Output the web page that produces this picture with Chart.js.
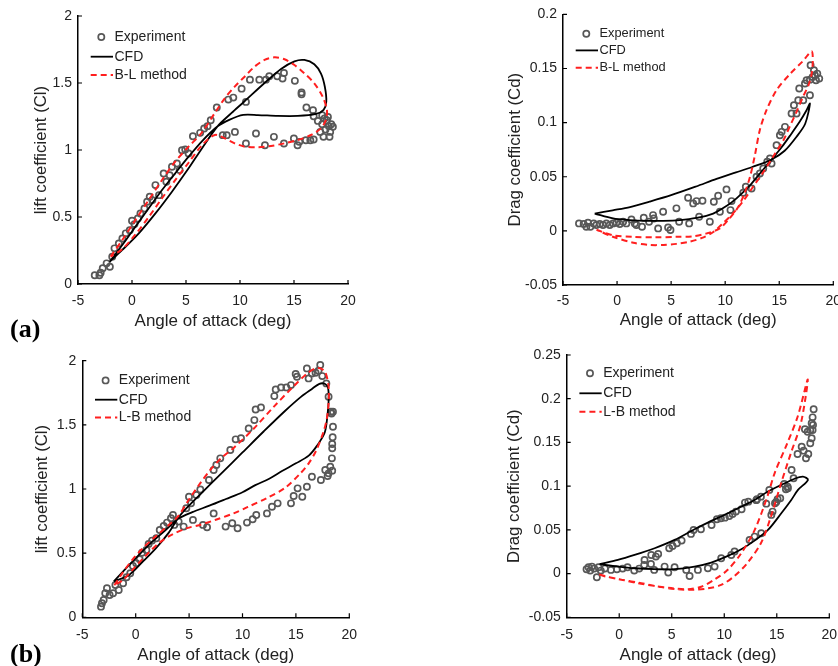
<!DOCTYPE html>
<html>
<head>
<meta charset="utf-8">
<script src="https://cdn.jsdelivr.net/npm/chart.js@4.4.1/dist/chart.umd.min.js"></script>
<style>
  html, body { margin: 0; padding: 0; background: #fff; width: 838px; height: 666px; overflow: hidden; }
  canvas { position: absolute; }
  .tag { position: absolute; font-family: "Liberation Serif", "Times New Roman", serif; font-weight: bold;
         font-size: 26px; line-height: 26px; color: #000; }
</style>
</head>
<body>
<canvas id="liftA" width="420" height="335" style="left:0px;top:0px"></canvas>
<canvas id="dragA" width="430" height="335" style="left:420px;top:0px"></canvas>
<canvas id="liftB" width="420" height="331" style="left:0px;top:335px"></canvas>
<canvas id="dragB" width="430" height="331" style="left:420px;top:335px"></canvas>
<div class="tag" style="left:10px;top:316px">(a)</div>
<div class="tag" style="left:10px;top:641px">(b)</div>
<script>
// ---- axis ticks ----
const aoaTicks = [-5, 0, 5, 10, 15, 20];
const aoaTickLabels = ['-5', '0', '5', '10', '15', '20'];
const liftTicks = [0, 0.5, 1, 1.5, 2];
const liftTickLabels = ['0', '0.5', '1', '1.5', '2'];
const dragTicksA = [-0.05, 0, 0.05, 0.1, 0.15, 0.2];
const dragTickLabelsA = ['-0.05', '0', '0.05', '0.1', '0.15', '0.2'];
const dragTicksB = [-0.05, 0, 0.05, 0.1, 0.15, 0.2, 0.25];
const dragTickLabelsB = ['-0.05', '0', '0.05', '0.1', '0.15', '0.2', '0.25'];

// ---- (a) lift: experiment ----
const expA_aoa = [-3.45,-3.02,-2.90,-2.71,-2.35,-2.05,-1.83,-1.62,-1.22,-0.89,-0.58,-0.21,0.00,0.23,0.54,0.78,1.15,1.40,1.64,1.89,
  2.17,2.50,2.93,3.18,3.49,3.70,4.16,4.41,4.63,4.93,5.24,5.64,6.31,6.68,6.99,7.29,7.85,8.40,8.77,8.92,
  9.38,9.53,10.15,10.55,10.55,10.92,11.48,11.79,12.31,12.40,12.71,13.14,13.45,13.94,14.07,14.07,15.08,14.99,15.33,15.49,
  15.70,15.70,16.10,16.15,16.51,16.82,16.76,16.82,17.21,17.43,17.61,17.73,17.92,18.04,18.23,18.35,18.45,18.29,18.14,18.60,
  17.83,17.61];
const expA_cl = [0.065,0.065,0.084,0.117,0.154,0.129,0.204,0.266,0.303,0.340,0.378,0.402,0.472,0.447,0.489,0.527,0.564,0.614,0.651,0.626,
  0.738,0.663,0.825,0.763,0.812,0.875,0.899,0.850,0.999,1.004,0.974,1.103,1.128,1.160,1.178,1.222,1.317,1.111,1.111,1.376,
  1.391,1.135,1.458,1.359,1.048,1.525,1.123,1.525,1.036,1.525,1.550,1.098,1.550,1.533,1.575,1.048,1.516,1.086,1.036,1.061,
  1.416,1.430,1.073,1.317,1.073,1.078,1.297,1.252,1.217,1.135,1.193,1.098,1.153,1.222,1.178,1.135,1.193,1.098,1.247,1.173,
  1.235,1.260];
// ---- (a) lift: CFD loop ----
const cfdA_aoa = [-2.07,-0.9,0.63,2.17,3.7,5.24,6.47,7.9,9.2,10.4,12.27,13.8,15.04,15.96,16.88,17.5,17.86,17.99,17.74,17.03,
  15.35,13.5,11.66,10.3,9.0,7.9,6.47,5.24,4.0,2.78,1.55,0.32,-0.9,-2.07];
const cfdA_cl = [0.166,0.254,0.378,0.527,0.689,0.863,1.012,1.175,1.275,1.362,1.50,1.605,1.662,1.672,1.64,1.57,1.47,1.36,1.30,1.269,
  1.254,1.254,1.261,1.262,1.225,1.175,1.065,0.95,0.826,0.701,0.565,0.428,0.291,0.166];
// ---- (a) lift: B-L method loop ----
const blA_aoa = [-1.98,-0.9,0.32,1.55,2.78,4.0,5.24,6.47,7.7,8.59,9.51,10.43,11.35,12.27,13.2,14.12,15.04,15.96,16.88,17.65,
  18.05,17.95,17.5,16.57,15.35,14.12,12.88,11.66,10.43,9.51,8.59,7.67,6.47,5.24,4.0,2.78,1.55,0.32,-0.9,-1.98];
const blA_cl = [0.204,0.328,0.478,0.627,0.776,0.913,1.025,1.13,1.28,1.386,1.473,1.547,1.622,1.672,1.692,1.677,1.634,1.572,1.498,1.398,
  1.299,1.224,1.162,1.112,1.075,1.05,1.03,1.02,1.025,1.05,1.087,1.112,1.035,0.905,0.775,0.64,0.50,0.37,0.26,0.204];

// ---- (a) drag: experiment ----
const expAd_aoa = [-3.52,-3.09,-2.84,-2.69,-2.47,-2.16,-1.91,-1.60,-1.30,-0.99,-0.68,-0.37,-0.06,0.25,0.56,0.86,1.33,1.64,1.79,2.31,
  2.47,2.96,3.33,3.40,3.80,4.26,4.72,4.94,5.49,5.74,6.57,6.67,7.04,7.35,7.59,7.90,8.58,8.95,9.35,9.51,
  10.12,10.49,10.59,11.67,11.91,12.44,12.90,13.21,13.52,13.89,14.14,14.29,14.75,15.06,15.22,15.53,16.14,16.36,16.60,16.76,
  16.85,17.22,17.38,17.53,17.84,17.90,18.09,18.21,18.40,18.52,18.70,17.84,18.30];
const expAd_cd = [0.0069,0.0063,0.0038,0.0075,0.0038,0.0069,0.0054,0.0063,0.0054,0.0069,0.0054,0.0069,0.0075,0.0063,0.0084,0.0069,0.0106,0.0069,0.0054,0.0038,
  0.0121,0.0084,0.0146,0.0115,0.0023,0.0177,0.0032,0.0008,0.0208,0.0084,0.0306,0.0069,0.0254,0.0275,0.0131,0.0278,0.0084,0.0269,0.0325,0.0177,
  0.0383,0.0192,0.0275,0.0352,0.0408,0.0392,0.0500,0.0531,0.0577,0.0638,0.0669,0.0623,0.0792,0.0884,0.0915,0.0961,0.1084,0.1161,0.1084,0.1207,
  0.1315,0.1207,0.1361,0.1391,0.1253,0.1530,0.1422,0.1484,0.1391,0.1453,0.1407,0.1397,0.1438];
// ---- (a) drag: CFD loop ----
const cfdAd_aoa = [-2.07,-0.37,1.17,2.71,4.26,5.8,7.35,8.89,10.12,11.05,12.28,13.21,14.3,15.2,16.0,16.9,17.5,17.84,17.4,16.6,
  15.5,14.3,12.5,11.0,9.2,7.3,5.0,3.0,1.2,-0.4,-2.07];
const cfdAd_cd = [0.016,0.0115,0.010,0.0093,0.0093,0.010,0.012,0.016,0.023,0.030,0.042,0.053,0.066,0.077,0.088,0.101,0.111,0.1176,0.099,0.087,
  0.074,0.066,0.059,0.054,0.048,0.041,0.033,0.027,0.022,0.019,0.016];
// ---- (a) drag: B-L method loop ----
const blAd_aoa = [-1.9,-0.4,1.5,3.5,5.5,7.0,8.3,9.5,10.4,11.2,11.8,12.3,12.75,13.2,13.8,14.75,16.0,17.2,18.0,18.1,
  18.0,17.7,17.2,16.6,16.0,15.4,14.4,13.5,12.6,11.7,10.7,9.8,8.9,8.0,6.7,5.5,4.3,3.0,1.5,-0.4,-1.9];
const blAd_cd = [0.001,-0.004,-0.0055,-0.006,-0.0055,-0.005,-0.0023,0.0023,0.0115,0.022,0.035,0.05,0.07,0.093,0.111,0.130,0.145,0.157,0.166,0.157,
  0.145,0.1345,0.124,0.11,0.097,0.084,0.068,0.054,0.041,0.028,0.016,0.007,-0.001,-0.006,-0.010,-0.012,-0.013,-0.013,-0.011,-0.0054,0.001];

// ---- (b) lift: experiment ----
const expB_aoa = [-3.25,-3.16,-3.00,-2.85,-2.69,-2.44,-2.12,-1.90,-1.59,-1.18,-0.86,-0.51,-0.26,0.05,0.37,0.59,1.00,1.21,1.53,1.93,
  2.25,2.62,2.93,3.30,3.49,3.61,4.02,4.49,4.74,4.99,5.18,5.36,5.68,6.05,6.30,6.68,6.86,7.30,7.30,7.55,
  7.92,8.42,8.86,9.04,9.36,9.54,9.86,10.42,10.58,10.95,11.11,11.29,11.23,11.73,12.29,12.76,12.98,13.11,13.29,13.61,
  14.11,14.54,14.54,14.79,14.98,15.10,15.16,15.60,16.03,16.03,16.19,16.50,16.50,16.84,17.12,17.28,17.34,17.47,17.75,17.97,
  18.06,18.22,17.85,18.06,18.34,18.47,18.44,18.40,18.40,18.37,18.40,18.47,18.28];
const expB_cl = [0.083,0.109,0.135,0.187,0.226,0.174,0.187,0.252,0.213,0.265,0.312,0.343,0.400,0.421,0.452,0.504,0.525,0.572,0.598,0.616,
  0.680,0.712,0.738,0.772,0.798,0.720,0.746,0.707,0.850,0.940,0.888,0.759,0.953,0.997,0.720,0.702,1.070,0.810,1.148,1.187,
  1.239,0.707,1.304,0.733,1.387,0.694,1.395,0.738,1.472,0.764,1.537,0.797,1.620,1.636,0.810,0.862,1.724,1.776,0.888,1.792,
  1.792,1.810,0.888,0.945,1.896,1.875,1.005,0.940,1.018,1.940,1.862,1.901,1.096,1.906,1.922,1.966,1.070,1.880,1.148,1.101,
  1.122,1.174,1.823,1.719,1.589,1.485,1.403,1.351,1.317,1.239,1.143,1.602,1.602];
// ---- (b) lift: CFD loop ----
const cfdB_aoa = [-2.05,-0.62,0.62,1.86,3.1,3.9,4.41,6.0,8.0,10.0,12.0,14.0,15.5,16.5,17.2,17.7,18.0,18.07,17.95,17.7,
  17.0,16.2,15.0,13.7,12.5,11.2,10.0,8.45,6.9,5.3,3.9,2.8,1.55,0.31,-0.93,-2.05];
const cfdB_cl = [0.28,0.33,0.43,0.535,0.66,0.765,0.82,0.955,1.12,1.285,1.45,1.61,1.72,1.78,1.82,1.82,1.79,1.70,1.57,1.44,
  1.34,1.26,1.20,1.14,1.08,1.03,0.975,0.922,0.87,0.82,0.765,0.68,0.59,0.486,0.38,0.28];
// ---- (b) lift: L-B method loop ----
const lbB_aoa = [-2.0,-1.2,-0.3,0.62,1.86,3.1,4.0,5.0,6.0,7.0,8.0,9.17,11.04,12.92,14.78,16.04,16.8,17.3,17.75,18.06,
  18.06,17.9,17.6,16.9,16.2,15.4,14.0,12.3,10.5,9.17,7.5,6.0,4.8,3.4,2.2,0.93,-0.3,-1.2,-2.0];
const lbB_cl = [0.25,0.35,0.45,0.535,0.63,0.72,0.79,0.92,1.04,1.15,1.24,1.32,1.47,1.64,1.80,1.90,1.94,1.94,1.91,1.80,
  1.67,1.55,1.45,1.30,1.20,1.12,1.01,0.93,0.86,0.81,0.76,0.72,0.695,0.645,0.58,0.48,0.37,0.29,0.25];

// ---- (b) drag: experiment ----
const expBd_aoa = [-3.11,-2.92,-2.76,-2.6,-2.38,-2.13,-1.97,-1.75,-1.37,-0.79,-0.22,0.32,0.79,1.43,1.9,2.38,2.41,3.02,3.05,3.33,
  3.49,3.71,4.32,4.67,4.76,5.08,5.27,5.49,5.94,6.38,6.7,6.83,7.08,7.49,7.78,8.44,8.79,9.08,9.3,9.68,
  9.71,10.06,10.48,10.67,10.79,10.98,11.11,11.65,11.97,12.29,12.41,12.89,13.11,13.49,13.52,14.29,14.48,14.6,14.83,15.08,
  15.33,15.71,15.87,16.03,16.41,16.6,16.98,17.37,17.56,17.78,18.0,17.68,17.94,18.19,18.32,18.41,18.51,18.32,18.19,18.41,
  18.45,13.05,14.0,14.95,16.06];
const expBd_cd = [0.005,0.0072,0.0034,0.008,0.0057,-0.0042,0.0072,0.0034,0.0057,0.0042,0.005,0.0057,0.0072,0.0034,0.0057,0.0099,0.0156,0.011,0.0213,0.0042,
  0.0194,0.0225,0.008,0.0011,0.029,0.0316,0.0072,0.0347,0.0377,0.0042,-0.0027,0.0454,0.0499,0.0042,0.0507,0.0061,0.0556,0.008,0.0621,0.0633,
  0.0175,0.064,0.0659,0.0213,0.0682,0.0252,0.0709,0.0736,0.0812,0.0823,0.0385,0.0423,0.085,0.088,0.0461,0.0957,0.0671,0.0709,0.0804,0.085,
  0.0861,0.1025,0.0964,0.0995,0.1185,0.109,0.1368,0.1452,0.1406,0.1319,0.1368,0.165,0.1623,0.1643,0.1719,0.1787,0.1879,0.1547,0.149,0.1643,
  0.17,0.084,0.080,0.082,0.0976];
// ---- (b) drag: CFD loop ----
const cfdBd_aoa = [-1.87,-0.13,1.46,3.37,5.27,7.17,8.44,10.35,11.62,12.89,14.16,15.43,16.7,17.49,17.97,
  17.02,16.38,15.43,14.16,12.89,11.62,10.35,8.76,7.17,5.27,3.37,1.46,-0.13,-1.87];
const cfdBd_cd = [0.0107,0.0156,0.0213,0.029,0.0385,0.0507,0.0583,0.069,0.0766,0.0842,0.0938,0.1014,0.1085,0.1109,0.1071,
  0.0957,0.0842,0.069,0.0499,0.0377,0.0278,0.0202,0.0126,0.008,0.005,0.005,0.0061,0.008,0.0107];
// ---- (b) drag: L-B method loop ----
const lbBd_aoa = [-1.9,-1.0,0.2,1.8,3.3,5.2,6.5,7.8,9.05,10.3,11.6,12.9,14.1,14.8,16.0,17.0,17.95,
  17.3,16.35,15.4,14.44,13.5,12.2,10.95,9.7,8.4,7.1,5.6,4.0,2.1,0.2,-1.4,-1.9];
const lbBd_cd = [-0.001,-0.004,-0.007,-0.011,-0.014,-0.017,-0.018,-0.015,-0.007,0.004,0.023,0.05,0.088,0.115,0.149,0.18,0.222,
  0.172,0.138,0.103,0.065,0.035,0.012,-0.003,-0.013,-0.017,-0.0185,-0.018,-0.0155,-0.011,-0.007,-0.003,-0.001];

// ---------------------------------------------------------------
const FONT = '"Liberation Sans", Arial, Helvetica, sans-serif';
Chart.defaults.font.family = FONT;
Chart.defaults.color = '#222';

function pts(xs, ys) {
  const n = Math.min(xs.length, ys.length);
  const out = [];
  for (let i = 0; i < n; i++) out.push({ x: xs[i], y: ys[i] });
  return out;
}

function experiment(xs, ys) {
  return { label: 'Experiment', data: pts(xs, ys), showLine: false, order: 3,
    pointStyle: 'circle', pointRadius: 3.1, pointBorderWidth: 1.7,
    pointBorderColor: '#585858', pointBackgroundColor: 'rgba(255,255,255,0)' };
}
function cfd(xs, ys) {
  return { label: 'CFD', data: pts(xs, ys), showLine: true, order: 2, fill: false,
    borderColor: '#000', borderWidth: 1.8, pointRadius: 0, tension: 0.3 };
}
function method(name, xs, ys) {
  return { label: name, data: pts(xs, ys), showLine: true, order: 1, fill: false,
    borderColor: '#ff1f1f', borderWidth: 2, borderDash: [6, 4], pointRadius: 0, tension: 0.3 };
}

// legend drawn inside the plot area, top-left
const insetLegend = {
  id: 'insetLegend',
  afterDraw(chart, args, o) {
    const { ctx, chartArea: a } = chart;
    ctx.save();
    ctx.font = o.size + 'px ' + FONT;
    ctx.textBaseline = 'middle';
    ctx.textAlign = 'left';
    chart.data.datasets.forEach((ds, i) => {
      const y = a.top + o.rows[i];
      if (ds.showLine) {
        ctx.beginPath();
        ctx.setLineDash(ds.borderDash || []);
        ctx.strokeStyle = ds.borderColor;
        ctx.lineWidth = ds.borderWidth;
        ctx.moveTo(a.left + o.lineFrom, y);
        ctx.lineTo(a.left + o.lineTo, y);
        ctx.stroke();
        ctx.setLineDash([]);
      } else {
        ctx.beginPath();
        ctx.arc(a.left + o.markX, y, ds.pointRadius, 0, Math.PI * 2);
        ctx.strokeStyle = ds.pointBorderColor;
        ctx.lineWidth = ds.pointBorderWidth;
        ctx.stroke();
      }
      ctx.fillStyle = '#222';
      ctx.fillText(ds.label, a.left + o.textX, y);
    });
    ctx.restore();
  }
};

// short tick marks pointing into the plot area
const innerTicks = {
  id: 'innerTicks',
  afterDraw(chart) {
    const { ctx, chartArea: a, scales: { x, y } } = chart;
    ctx.save();
    ctx.strokeStyle = '#000';
    ctx.lineWidth = 1.2;
    ctx.beginPath();
    x.ticks.forEach(t => { const p = x.getPixelForValue(t.value); ctx.moveTo(p, a.bottom); ctx.lineTo(p, a.bottom - 4); });
    y.ticks.forEach(t => { const p = y.getPixelForValue(t.value); ctx.moveTo(a.left, p); ctx.lineTo(a.left + 4, p); });
    ctx.stroke();
    ctx.restore();
  }
};

function panel(id, o) {
  const canvas = document.getElementById(id);
  const W = canvas.width, H = canvas.height;
  return new Chart(canvas, {
    type: 'scatter',
    data: { datasets: o.datasets },
    options: {
      responsive: false,
      animation: false,
      events: [],
      layout: { padding: { left: 0, top: o.area.top, right: W - o.area.right, bottom: 0 } },
      plugins: { legend: { display: false }, tooltip: { enabled: false }, insetLegend: o.legend },
      scales: {
        x: {
          type: 'linear', min: -5, max: 20,
          afterBuildTicks: s => { s.ticks = aoaTicks.map(v => ({ value: v })); },
          afterFit: s => { s.height = H - o.area.bottom; },
          ticks: { callback: (v, i) => aoaTickLabels[i], font: { size: 14 }, color: '#222',
                   padding: o.xTickPad, maxRotation: 0, autoSkip: false },
          grid: { display: false, drawTicks: false },
          border: { display: true, color: '#000', width: 1.5 },
          title: { display: true, text: 'Angle of attack (deg)', font: { size: 17 }, color: '#222',
                   padding: { top: 0, bottom: o.xTitlePad } }
        },
        y: {
          type: 'linear', min: o.yTicks[0], max: o.yTicks[o.yTicks.length - 1],
          afterBuildTicks: s => { s.ticks = o.yTicks.map(v => ({ value: v })); },
          afterFit: s => { s.width = o.area.left; },
          ticks: { callback: (v, i) => o.yLabels[i], font: { size: 14 }, color: '#222',
                   padding: 6, autoSkip: false },
          grid: { display: false, drawTicks: false },
          border: { display: true, color: '#000', width: 1.5 },
          title: { display: true, text: o.yTitle, font: { size: 16.8 }, color: '#222',
                   padding: { top: o.yTitlePad, bottom: 0 } }
        }
      }
    },
    plugins: [insetLegend, innerTicks]
  });
}

const legendShape = { lineFrom: 12.7, lineTo: 35, markX: 23.3, textX: 36.5 };

panel('liftA', {
  area: { left: 78, right: 348, top: 16, bottom: 284 },
  yTicks: liftTicks, yLabels: liftTickLabels, yTitle: 'lift coefficient (Cl)',
  yTitlePad: 31, xTitlePad: 3.5, xTickPad: 8.5,
  legend: Object.assign({ size: 14, rows: [21, 40.7, 59] }, legendShape),
  datasets: [experiment(expA_aoa, expA_cl), cfd(cfdA_aoa, cfdA_cl), method('B-L method', blA_aoa, blA_cl)]
});

panel('dragA', {
  area: { left: 143, right: 413.3, top: 14, bottom: 285 },
  yTicks: dragTicksA, yLabels: dragTickLabelsA, yTitle: 'Drag coefficient (Cd)',
  yTitlePad: 85, xTitlePad: 4.5, xTickPad: 7.5,
  legend: Object.assign({ size: 12.8, rows: [19.3, 36, 53.3] }, legendShape),
  datasets: [experiment(expAd_aoa, expAd_cd), cfd(cfdAd_aoa, cfdAd_cd), method('B-L method', blAd_aoa, blAd_cd)]
});

panel('liftB', {
  area: { left: 82.3, right: 349.3, top: 25.7, bottom: 282.3 },
  yTicks: liftTicks, yLabels: liftTickLabels, yTitle: 'lift coefficient (Cl)',
  yTitlePad: 32.5, xTitlePad: 0.8, xTickPad: 9,
  legend: Object.assign({ size: 14, rows: [19.7, 39, 56.7] }, legendShape),
  datasets: [experiment(expB_aoa, expB_cl), cfd(cfdB_aoa, cfdB_cl), method('L-B method', lbB_aoa, lbB_cl)]
});

panel('dragB', {
  area: { left: 146.7, right: 409.3, top: 20, bottom: 282.3 },
  yTicks: dragTicksB, yLabels: dragTickLabelsB, yTitle: 'Drag coefficient (Cd)',
  yTitlePad: 84, xTitlePad: 0.8, xTickPad: 9,
  legend: Object.assign({ size: 14, rows: [18.3, 38.3, 56.7] }, legendShape),
  datasets: [experiment(expBd_aoa, expBd_cd), cfd(cfdBd_aoa, cfdBd_cd), method('L-B method', lbBd_aoa, lbBd_cd)]
});
</script>
</body>
</html>
